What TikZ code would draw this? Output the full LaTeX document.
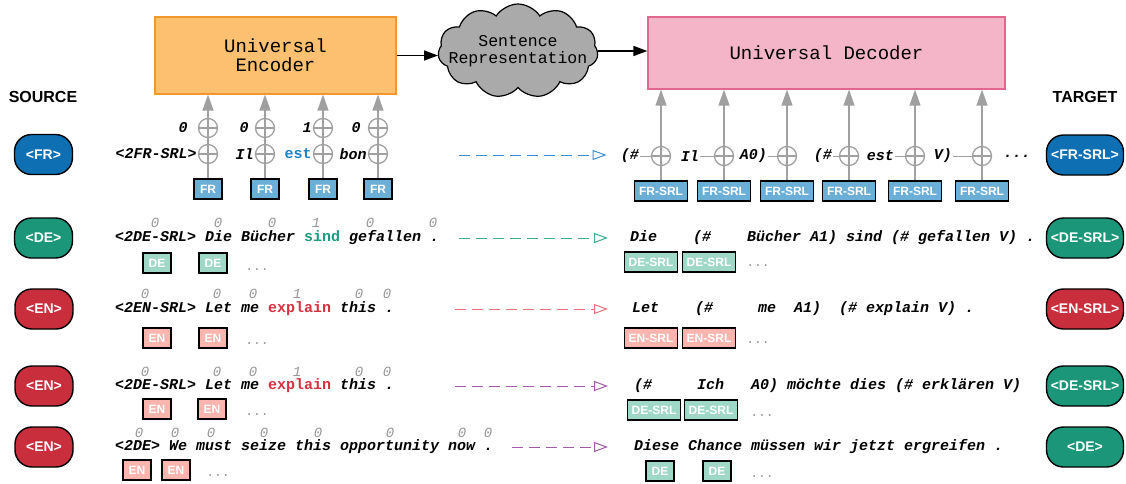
\documentclass[tikz,border=0pt]{standalone}
\usepackage{fontspec}
\setmainfont{Liberation Sans}
\setsansfont{Liberation Sans}
\setmonofont{Liberation Mono}
\usepackage{tikz}
\usetikzlibrary{arrows.meta,positioning,shapes.symbols,shapes.misc}

\definecolor{encfill}{RGB}{253,192,112}
\definecolor{encline}{RGB}{242,150,45}
\definecolor{decfill}{RGB}{244,181,200}
\definecolor{decline}{RGB}{224,104,142}
\definecolor{cloudgray}{RGB}{170,170,170}
\definecolor{argray}{RGB}{160,160,160}
\definecolor{numgray}{RGB}{150,150,150}
\definecolor{frdark}{RGB}{14,112,178}
\definecolor{frlight}{RGB}{107,174,214}
\definecolor{dedark}{RGB}{27,150,121}
\definecolor{delight}{RGB}{160,216,200}
\definecolor{endark}{RGB}{200,46,60}
\definecolor{enlight}{RGB}{251,180,174}
\definecolor{frword}{RGB}{28,130,196}
\definecolor{deword}{RGB}{30,155,128}
\definecolor{enword}{RGB}{212,50,62}
\definecolor{frdash}{RGB}{58,143,212}
\definecolor{dedash}{RGB}{60,170,148}
\definecolor{endash}{RGB}{232,112,122}
\definecolor{mixdash}{RGB}{160,90,168}

\newcommand{\fsz}[1]{\fontsize{#1}{#1}\selectfont}

\begin{document}
\begin{tikzpicture}[x=1pt,y=-1pt,
mainbox/.style={draw,line width=1.2pt,align=center,font=\ttfamily\fsz{19}},
badge/.style={draw=black,line width=1.4pt,rounded corners=17pt,minimum height=40pt,minimum width=58pt,inner sep=0pt,text=white,font=\sffamily\bfseries\fsz{14}},
tag/.style={draw=black,line width=1.4pt,minimum height=20pt,minimum width=28pt,inner sep=0pt,text=white,font=\sffamily\bfseries\fsz{12}},
srltag/.style={tag,minimum width=53pt},
oplus/.style={circle,draw=argray,line width=1.3pt,minimum size=19pt,inner sep=0pt,
  path picture={\draw[argray,line width=1.3pt] (path picture bounding box.west) -- (path picture bounding box.east)
  (path picture bounding box.north) -- (path picture bounding box.south);}},
tok/.style={inner sep=1pt,font=\ttfamily\bfseries\itshape\fsz{15}},
sent/.style={tok,anchor=west,inner sep=0pt},
num/.style={inner sep=0pt,text=numgray,font=\ttfamily\itshape\fsz{14}},
dots/.style={inner sep=0pt,text=numgray,font=\ttfamily\fsz{13}},
feed/.style={argray,line width=1.3pt,-{Triangle[width=11pt,length=16pt]}},
oneway/.style={dash pattern=on 11pt off 6pt,line width=1pt,-{Triangle[open,width=10pt,length=14pt]},shorten >=#1},
oneway/.default=0pt,
flow/.style={line width=1.5pt,-{Triangle[width=10pt,length=14pt]}}]
\useasboundingbox (0,0) rectangle (1126,483);

    % Draw encoder, representation and decoder
    \node[mainbox,fill=encfill,draw=encline,minimum width=241pt,minimum height=77pt] (enc) at (275.5,55.5) {Universal\\Encoder};
    \node[cloud,draw,fill=cloudgray,line width=1.2pt,cloud puffs=11,cloud puff arc=115,aspect=1.7,
        minimum width=160pt,minimum height=94pt,inner sep=0pt] (rep) at (518,51) {};
    \node[align=center,font=\ttfamily\fsz{16.5},inner sep=0pt] (reptxt) at (rep.center) {Sentence\\Representation};
    \node[mainbox,fill=decfill,draw=decline,minimum width=357pt,minimum height=72pt] (dec) at (826.5,53) {Universal Decoder};
    \draw[flow] (enc.east) -- (enc.east -| rep.west);
    \draw[flow] (rep.east) -- (rep.east -| dec.west);

    \node[font=\sffamily\bfseries\fsz{16}] (src) at (43,97) {SOURCE};
    \node[font=\sffamily\bfseries\fsz{16}] (tgt) at (1085,97) {TARGET};

    % FR row: encoder inputs
    \foreach \x [count=\i] in {208,265,323,378} {
        \node[tag,fill=frlight] (fr\i) at (\x,189) {FR};
        \draw[feed] (fr\i.north) -- (fr\i.north |- enc.south);
        \node[oplus] (lo\i) at (\x,154) {};
        \node[oplus] (up\i) at (\x,128) {};
    }
    \node[tok] (w1) [left=0pt of lo1] {<2FR-SRL>};
    \node[tok] (w2) [left=0pt of lo2] {Il};
    \node[tok,text=frword,font=\ttfamily\bfseries\fsz{15}] (w3) [left=0pt of lo3] {est};
    \node[tok] (w4) [left=0pt of lo4] {bon};
    \foreach \x/\v [count=\i] in {183/0,244/0,307/1,356/0}
        \node[tok] (b\i) at (\x,128) {\v};

    % FR row: decoder inputs
    \foreach \x [count=\i] in {661,724,787,849,915,982} {
        \node[srltag,fill=frlight] (fs\i) at (\x,191) {FR-SRL};
        \draw[feed] (fs\i.north) -- (fs\i.north |- dec.south);
        \node[oplus] (dp\i) at (\x,156) {};
    }
    \foreach \e/\t [count=\i] in {640/{(\#},700/{Il},768/{A0)},833/{(\#},895/{est},953/{V)}} {
        \node[tok,anchor=east] (d\i) at (\e,156) {\t};
        \draw[argray,line width=1pt] (d\i.east) -- (dp\i.west);
    }
    \node[tok] (d7) at (1017,156) {...};

    \node[badge,fill=frdark] (lfr) at (43.5,154.5) {<FR>};
    \node[badge,fill=frdark,minimum width=77pt] (rfr) at (1085,155) {<FR-SRL>};
    \coordinate (a1) at (459,155);
    \draw[oneway=13pt,frdash] (a1) -- (a1 -| d1.west);

    % DE row
    \node[badge,fill=dedark] (lde) at (43.5,238) {<DE>};
    \node[sent] (s2) at (115,238) {<2DE-SRL> Die Bücher {\upshape\color{deword}sind} gefallen .};
    \foreach \x/\v [count=\i] in {155/0,218/0,272/0,316/1,370/0,433/0}
        \node[num] (n2\i) at (\x,223) {\v};
    \node[tag,fill=delight] (g21) at (157,263) {DE};
    \node[tag,fill=delight] (g22) at (213,263) {DE};
    \node[dots] (g23) at (257,270) {...};
    \node[sent] (t2) at (630,238) {Die\ \ \ \ (\#\ \ \ \ Bücher A1) sind (\# gefallen V) .};
    \node[srltag,fill=delight] (h21) at (651,262) {DE-SRL};
    \node[srltag,fill=delight] (h22) at (709,262) {DE-SRL};
    \node[dots] (h23) at (758,266) {...};
    \node[badge,fill=dedark,minimum width=77pt] (rde) at (1085,238) {<DE-SRL>};
    \coordinate (a2) at (459,238);
    \draw[oneway=22pt,dedash] (a2) -- (a2 -| t2.west);

    % EN row
    \node[badge,fill=endark] (len) at (44,309) {<EN>};
    \node[sent] (s3) at (115,309) {<2EN-SRL> Let me {\upshape\color{enword}explain} this .};
    \foreach \x/\v [count=\i] in {145/0,217/0,253/0,297/1,359/0,387/0}
        \node[num] (n3\i) at (\x,294) {\v};
    \node[tag,fill=enlight] (g31) at (157,338) {EN};
    \node[tag,fill=enlight] (g32) at (213,338) {EN};
    \node[dots] (g33) at (257,344) {...};
    \node[sent] (t3) at (632,309) {Let\ \ \ \ (\#\ \ \ \ \ me\ \ A1)\ \ (\# explain V) .};
    \node[srltag,fill=enlight] (h31) at (651,338) {EN-SRL};
    \node[srltag,fill=enlight] (h32) at (709,338) {EN-SRL};
    \node[dots] (h33) at (758,343) {...};
    \node[badge,fill=endark,minimum width=77pt] (ren) at (1085,309) {<EN-SRL>};
    \coordinate (a3) at (455,309);
    \draw[oneway=24pt,endash] (a3) -- (a3 -| t3.west);

    % EN to DE-SRL row
    \node[badge,fill=endark] (lmx) at (44,386) {<EN>};
    \node[sent] (s4) at (115,386) {<2DE-SRL> Let me {\upshape\color{enword}explain} this .};
    \foreach \x/\v [count=\i] in {145/0,217/0,253/0,297/1,359/0,387/0}
        \node[num] (n4\i) at (\x,372) {\v};
    \node[tag,fill=enlight] (g41) at (157,409) {EN};
    \node[tag,fill=enlight] (g42) at (212,409) {EN};
    \node[dots] (g43) at (257,415) {...};
    \node[sent] (t4) at (634,386) {(\#\ \ \ \ \ Ich\ \ \ A0) möchte dies (\# erklären V)};
    \node[srltag,fill=delight] (h41) at (654,410) {DE-SRL};
    \node[srltag,fill=delight] (h42) at (711,410) {DE-SRL};
    \node[dots] (h43) at (762,416) {...};
    \node[badge,fill=dedark,minimum width=77pt] (rmx) at (1085,386) {<DE-SRL>};
    \coordinate (a4) at (455,386);
    \draw[oneway=26pt,mixdash] (a4) -- (a4 -| t4.west);

    % EN to DE row
    \node[badge,fill=endark] (lnt) at (44,447) {<EN>};
    \node[sent] (s5) at (115,447) {<2DE> We must seize this opportunity now .};
    \foreach \x/\v [count=\i] in {139/0,175/0,211/0,264/0,318/0,390/0,462/0,488/0}
        \node[num] (n5\i) at (\x,433) {\v};
    \node[tag,fill=enlight] (g51) at (137,470) {EN};
    \node[tag,fill=enlight] (g52) at (176,470) {EN};
    \node[dots] (g53) at (218,476) {...};
    \node[sent] (t5) at (634,447) {Diese Chance müssen wir jetzt ergreifen .};
    \node[tag,fill=delight] (h51) at (660,471) {DE};
    \node[tag,fill=delight] (h52) at (717,471) {DE};
    \node[dots] (h53) at (762,477) {...};
    \node[badge,fill=dedark,minimum width=77pt] (rnt) at (1085,447) {<DE>};
    \coordinate (a5) at (512,447);
    \draw[oneway=26pt,mixdash] (a5) -- (a5 -| t5.west);
\end{tikzpicture}
\end{document}
